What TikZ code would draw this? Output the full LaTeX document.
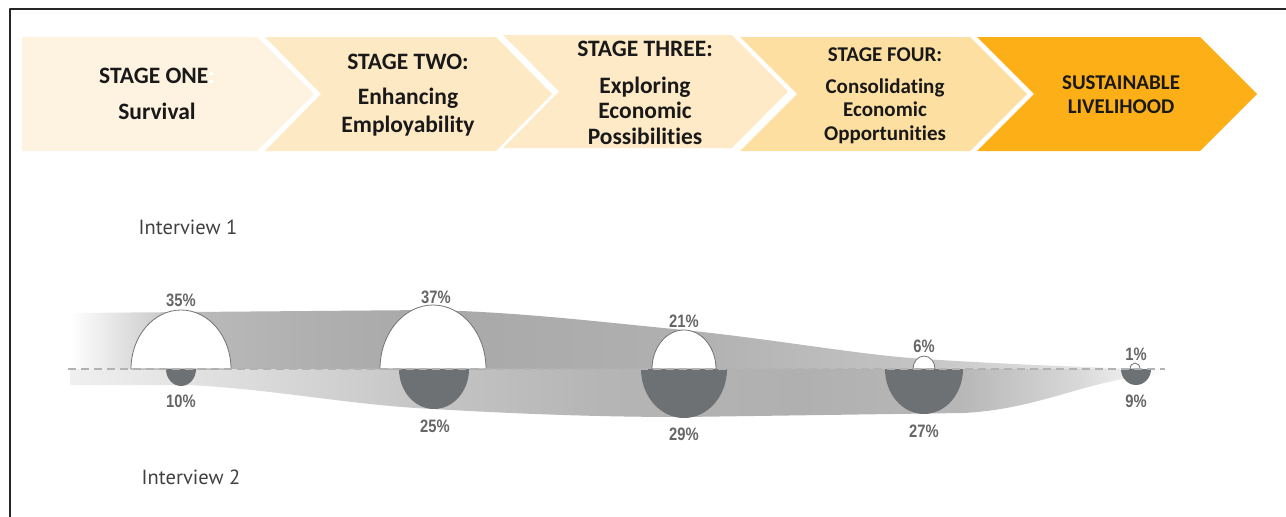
\documentclass[tikz,border=0pt]{standalone}
\usepackage{fontspec}
\setmainfont[Ligatures=NoCommon]{Carlito}
\newfontfamily\pctfont[FakeStretch=0.82]{Liberation Sans}
\newfontfamily\ivfont{PT Sans}
\usetikzlibrary{positioning}
\definecolor{stageA}{HTML}{FEF3E0}
\definecolor{stageB}{HTML}{FEE9C5}
\definecolor{stageC}{HTML}{FEEAC7}
\definecolor{stageD}{HTML}{FDDFA2}
\definecolor{stageE}{HTML}{FCAF17}
\definecolor{darkcap}{HTML}{6E7174}
\definecolor{pctgray}{HTML}{666666}
\definecolor{ivgray}{HTML}{404040}
\pgfdeclarehorizontalshading{bandtop}{100bp}{color(0bp)=(white); color(25bp)=(white); color(30.6bp)=(black!27); color(36bp)=(black!31); color(41.7bp)=(black!34); color(53.4bp)=(black!31); color(64.5bp)=(black!23); color(71bp)=(black!12); color(75bp)=(white); color(100bp)=(white)}
\pgfdeclarehorizontalshading{bandbottom}{100bp}{color(0bp)=(white); color(25bp)=(black!6); color(33.2bp)=(black!14); color(41.4bp)=(black!23); color(49.2bp)=(black!29); color(58.3bp)=(black!31); color(65.8bp)=(black!28); color(71.1bp)=(black!15); color(74.3bp)=(black!3); color(75bp)=(white); color(100bp)=(white)}
\tikzset{
  stagetext/.style={font=\bfseries\fontsize{23.5}{28}\selectfont, align=center, text=black!90},
  stagesmall/.style={font=\bfseries\fontsize{21}{23.5}\selectfont, align=center, text=black!90},
  capone/.style={fill=white, draw=black!55, line width=0.8pt},
  captwo/.style={fill=darkcap},
  pct/.style={font=\pctfont\bfseries\fontsize{18}{20}\selectfont, text=pctgray},
  ivlabel/.style={font=\ivfont\fontsize{20.5}{22}\selectfont, text=ivgray},
  midline/.style={draw=black!30, line width=1.6pt, dash pattern=on 8pt off 5pt}
}
\begin{document}
\begin{tikzpicture}[x=1pt, y=-1pt, line join=round]
\useasboundingbox (0,0) rectangle (1286,517);
\draw[line width=2pt, black!85] (1286,9) -- (10,9) -- (10,517);

% stage arrows
\fill[stageA] (22,37) -- (257,37) -- (314,94) -- (257,151) -- (22,151) -- cycle;
\fill[stageB] (265,37) -- (496,37) -- (552,94) -- (496,151) -- (265,151) -- (321,94) -- cycle;
\fill[stageC] (503,35) -- (732,35) -- (788,91.5) -- (732,148) -- (503,148) -- (559,91.5) -- cycle;
\fill[stageD] (740,37) -- (970,37) -- (1027,94) -- (970,151) -- (740,151) -- (797,94) -- cycle;
\fill[stageE] (977,37) -- (1200,37) -- (1257,94) -- (1200,151) -- (977,151) -- (1034,94) -- cycle;

\node[stagetext] (one) at (157,94) {STAGE ONE\textcolor{white}{:}\\[8pt]Survival};
\node[stagetext] (two) at (408,95.5) {STAGE TWO:\\[7pt]Enhancing\\Employability};
\node[stagetext, font=\bfseries\fontsize{23.5}{25.5}\selectfont] (three) at (645,93) {STAGE THREE:\\[11pt]Exploring\\Economic\\Possibilities};
\node[stagesmall] (four) at (885,95.5) {STAGE FOUR:\\[8.5pt]Consolidating\\Economic\\Opportunities};
\node[stagesmall] (five) at (1121,94.5) {SUSTAINABLE\\LIVELIHOOD};

% bands
\shade[shading=bandtop] (70,369) -- (70,313) -- (430,310) .. controls (520,312) and (600,322) .. (684,330)
  .. controls (780,340) and (860,355) .. (924,359) .. controls (1000,364) and (1080,367) .. (1150,369) -- cycle;
\shade[shading=bandbottom] (70,369) -- (70,385) -- (190,385) .. controls (280,390) and (350,405) .. (433,409)
  .. controls (520,414) and (600,417) .. (684,417) -- (963,413) .. controls (1030,410) and (1080,385) .. (1130,378)
  -- (1165,374) -- (1165,369) -- cycle;

% interview 1
\draw[capone] (231,369) arc[start angle=0, end angle=180, x radius=50pt, y radius=59pt] -- cycle;
\draw[capone] (486,369) arc[start angle=0, end angle=180, x radius=53pt, y radius=64pt] -- cycle;
\draw[capone] (716,369) arc[start angle=0, end angle=180, x radius=32pt, y radius=39pt] -- cycle;
\draw[capone] (935,369) arc[start angle=0, end angle=180, x radius=11pt, y radius=13pt] -- cycle;
\draw[capone] (1140,369) arc[start angle=0, end angle=180, x radius=5pt, y radius=6pt] -- cycle;
% interview 2
\fill[captwo] (166,369) arc[start angle=180, end angle=360, x radius=15pt, y radius=17pt] -- cycle;
\fill[captwo] (399,369) arc[start angle=180, end angle=360, x radius=35pt, y radius=40pt] -- cycle;
\fill[captwo] (641,369) arc[start angle=180, end angle=360, x radius=43pt, y radius=49pt] -- cycle;
\fill[captwo] (885,369) arc[start angle=180, end angle=360, x radius=39pt, y radius=45pt] -- cycle;
\fill[captwo] (1121,369) arc[start angle=180, end angle=360, x radius=15pt, y radius=16pt] -- cycle;

\coordinate (ml) at (68,369);
\coordinate (mr) at (1165,369);
\draw[midline] (ml) -- (mr);

\node[pct] (a1) at (181,300) {35\%};
\node[pct] (a2) at (436,297) {37\%};
\node[pct] (a3) at (684,321) {21\%};
\node[pct] (a4) at (924,346) {6\%};
\node[pct] (a5) at (1136,354) {1\%};
\node[pct] (b1) at (181,401) {10\%};
\node[pct] (b2) at (435,426) {25\%};
\node[pct] (b3) at (684,434) {29\%};
\node[pct] (b4) at (924,431) {27\%};
\node[pct] (b5) at (1136,401) {9\%};

\node[ivlabel] (iv1) at (188,227) {Interview 1};
\node[ivlabel] (iv2) at (191,477) {Interview 2};
\end{tikzpicture}
\end{document}
